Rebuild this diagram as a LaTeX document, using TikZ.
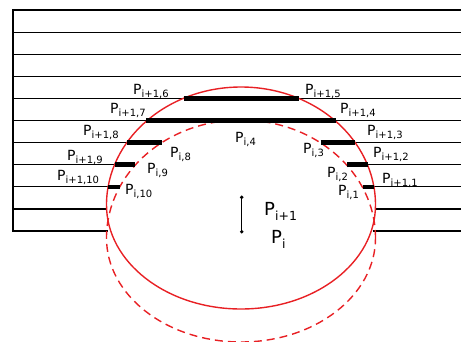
\documentclass[tikz,border=0pt]{standalone}
\usepackage{fontspec}
\setmainfont{DejaVu Sans}
\newcommand{\plab}[1]{{\fontsize{14}{14}\selectfont P}\raisebox{-3.5pt}{\fontsize{10}{10}\selectfont #1}}
\newcommand{\pbig}[1]{{\fontsize{18}{18}\selectfont P}\raisebox{-5pt}{\fontsize{12.5}{12.5}\selectfont #1}}
\definecolor{myred}{RGB}{232,32,36}
\begin{document}
\begin{tikzpicture}[x=1pt,y=-1pt,
  gridline/.style={line width=1.2pt,black},
  circ/.style={line width=1.4pt,myred},
  bar/.style={line width=4.6pt,black},
  lab/.style={inner sep=0pt,anchor=base west}]
\useasboundingbox (0,0) rectangle (461,341);
% full-width horizontal lines
\foreach \yy in {10,32.1,54.2,76.3,98.4,120.5}
  \draw[gridline] (13.3,\yy) -- (461,\yy);
% split lines
\foreach \yy/\xl/\xr in {142.6/126.6/355.4,164.7/114.5/367.5,186.8/108.1/373.9,208.9/106.6/375.4,231/108/373}{
  \draw[gridline] (13.3,\yy) -- (\xl,\yy);
  \draw[gridline] (\xr,\yy) -- (461,\yy);
}
% vertical line
\draw[line width=1.8pt] (13.3,9.4) -- (13.3,231.6);
% solid curve
\draw[circ] (375.5,205) arc[start angle=0,end angle=-180,x radius=134.5,y radius=118]
  arc[start angle=180,end angle=0,x radius=134.5,y radius=104];
% dashed curve
\draw[circ,dash pattern=on 8pt off 5pt] (375.5,238) arc[start angle=0,end angle=-180,x radius=134.5,y radius=118]
  arc[start angle=180,end angle=0,x radius=134.5,y radius=104];
% thick bars
\draw[bar] (183.5,98.4) -- (299,98.4);
\draw[bar] (146,120.5) -- (335.5,120.5);
\draw[bar] (126.6,142.6) -- (161.5,142.6);
\draw[bar] (320.5,142.6) -- (355.4,142.6);
\draw[bar] (114.5,164.7) -- (135,164.7);
\draw[bar] (347,164.7) -- (367.5,164.7);
\draw[bar] (108.1,186.8) -- (119.5,186.8);
\draw[bar] (362.5,186.8) -- (373.9,186.8);
% centre segment
\coordinate (pA) at (241.7,197.3);
\coordinate (pB) at (241.7,231.7);
\draw[line width=1.3pt] (pA) -- (pB);
\fill (pA) circle (1.9);
\fill (pB) circle (1.9);
% labels
\node[lab] (l16) at (133,94) {\plab{i+1,6}};
\node[lab] (l15) at (305,94) {\plab{i+1,5}};
\node[lab] (l17) at (110,113) {\plab{i+1,7}};
\node[lab] (l14) at (340,113) {\plab{i+1,4}};
\node[lab] (l18) at (83,135) {\plab{i+1,8}};
\node[lab] (l19) at (67,160) {\plab{i+1,9}};
\node[lab] (l110) at (57,180) {\plab{i+1,10}};
\node[lab] (l13) at (367,135) {\plab{i+1,3}};
\node[lab] (l12) at (373,157) {\plab{i+1,2}};
\node[lab] (l11) at (382,183) {\plab{i+1,1}};
\node[lab] (k4) at (235,142) {\plab{i,4}};
\node[lab] (k8) at (170,157) {\plab{i,8}};
\node[lab] (k9) at (147,173) {\plab{i,9}};
\node[lab] (k10) at (125,194) {\plab{i,10}};
\node[lab] (k3) at (303,153) {\plab{i,3}};
\node[lab] (k2) at (327,177) {\plab{i,2}};
\node[lab] (k1) at (338,195) {\plab{i,1}};
\node[lab] (pn) at (264,215) {\pbig{i+1}};
\node[lab] (pc) at (271,243) {\pbig{i}};
\end{tikzpicture}
\end{document}
